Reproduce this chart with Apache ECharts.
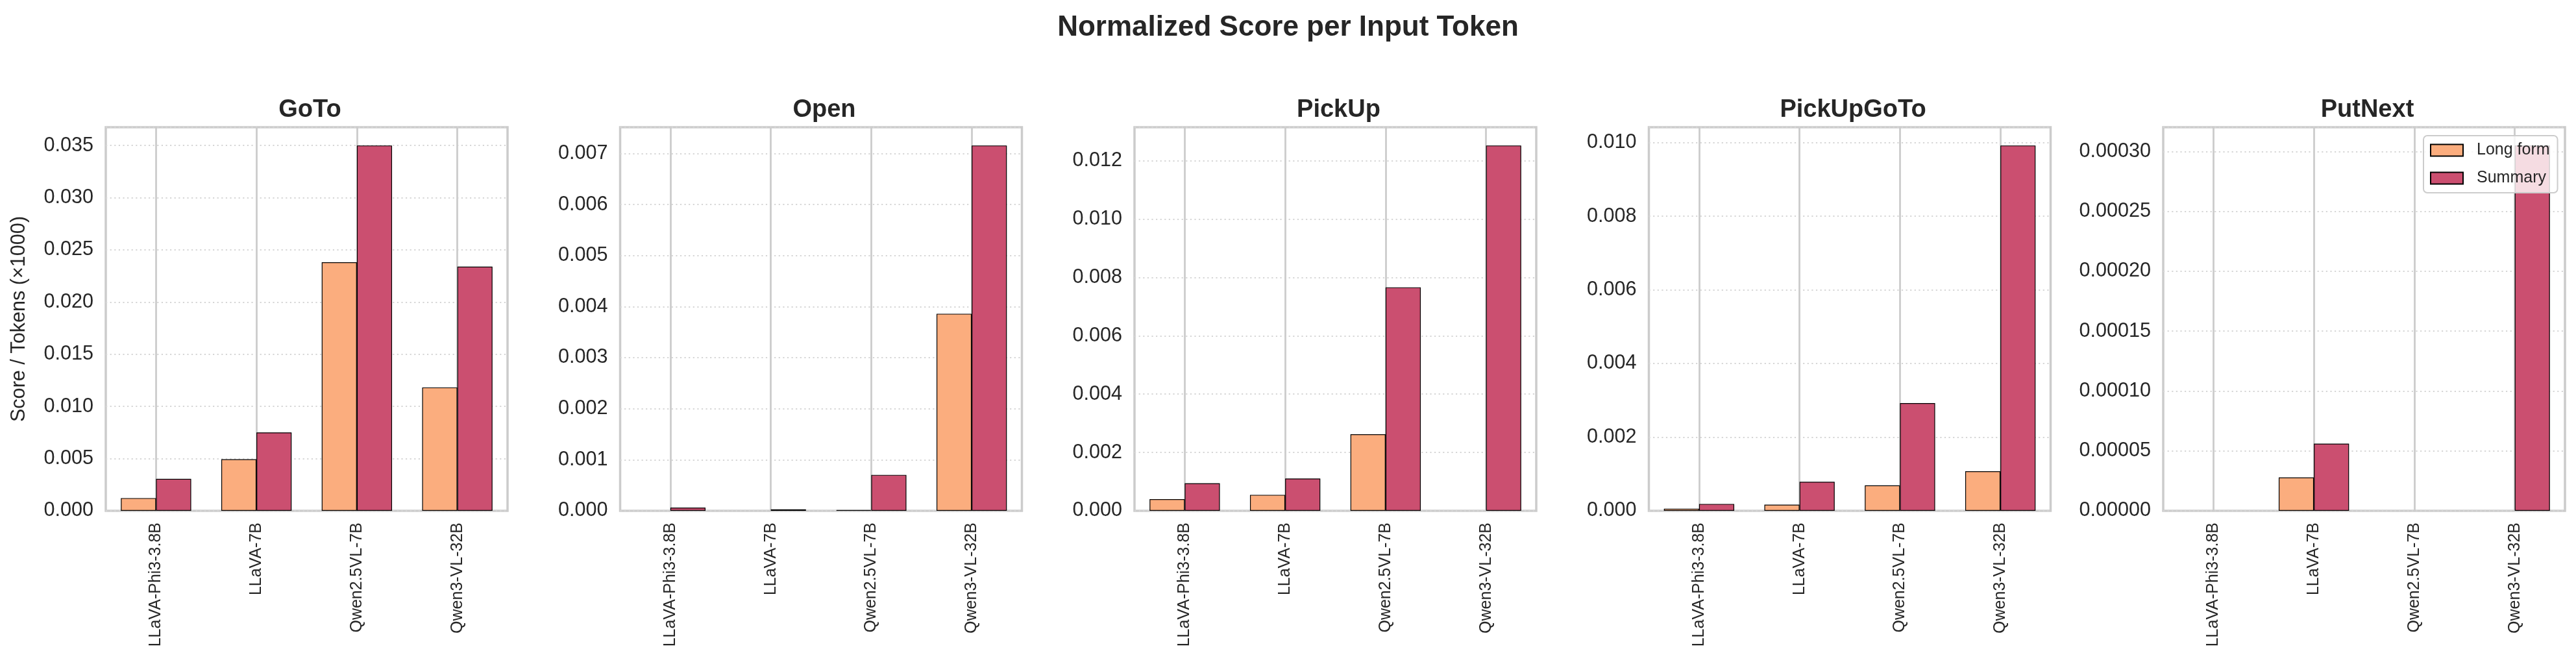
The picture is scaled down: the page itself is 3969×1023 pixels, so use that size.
<!DOCTYPE html>
<html><head><meta charset="utf-8">
<script src="https://cdn.jsdelivr.net/npm/echarts@6/dist/echarts.min.js"></script>
<style>html,body{margin:0;padding:0;background:#fff}#c{width:3969px;height:1023px}</style>
</head><body><div id="c"></div>
<script>
// ---- data ----
const models = ['LLaVA-Phi3-3.8B', 'LLaVA-7B', 'Qwen2.5VL-7B', 'Qwen3-VL-32B'];
const tasks = ['GoTo', 'Open', 'PickUp', 'PickUpGoTo', 'PutNext'];
const seriesNames = ['Long form', 'Summary'];
const gotoLong = [0.00122, 0.00494, 0.02381, 0.01182];
const gotoSummary = [0.00306, 0.00751, 0.0350, 0.02339];
const openLong = [0, 0, 0.000014, 0.00386];
const openSummary = [0.000064, 0.00003, 0.000704, 0.007156];
const pickupLong = [0.000398, 0.000547, 0.002624, 0];
const pickupSummary = [0.000945, 0.001107, 0.00766, 0.01252];
const pickupgotoLong = [0.000059, 0.000167, 0.00069, 0.001074];
const pickupgotoSummary = [0.000187, 0.000788, 0.002926, 0.00992];
const putnextLong = [0, 0.0000279, 0, 0];
const putnextSummary = [0, 0.0000561, 0, 0.000305];
const yTickStep = [0.005, 0.001, 0.002, 0.002, 0.00005];
const yTickDecimals = [3, 3, 3, 3, 5];
const mainTitle = 'Normalized Score per Input Token';
const yAxisTitle = 'Score / Tokens (×1000)';

const longByTask = [gotoLong, openLong, pickupLong, pickupgotoLong, putnextLong];
const sumByTask = [gotoSummary, openSummary, pickupSummary, pickupgotoSummary, putnextSummary];

// ---- style / layout ----
const FONT = '"Liberation Sans", Arial, sans-serif';
const TXT = '#262626';
const COL_LONG = '#FBAD7E';
const COL_SUM = '#CB4F70';
const GRID_LEFT0 = 163, GRID_STEP = 792.5, GRID_W = 619, GRID_TOP = 196, GRID_H = 591;

const grids = [], xAxes = [], yAxes = [], series = [], titles = [];
titles.push({
  text: mainTitle, left: 'center', top: 16,
  textStyle: { fontFamily: FONT, fontSize: 44, fontWeight: 'bold', color: TXT }
});

function barData(arr) {
  return arr.map(v => v === 0 ? { value: 0, itemStyle: { borderWidth: 0 } } : v);
}

tasks.forEach((t, i) => {
  const left = GRID_LEFT0 + GRID_STEP * i;
  grids.push({
    left: left, top: GRID_TOP, width: GRID_W, height: GRID_H,
    show: true, borderColor: '#cccccc', borderWidth: 3.5, backgroundColor: 'transparent'
  });
  titles.push({
    text: t, left: left + GRID_W / 2, top: 146, textAlign: 'center',
    textStyle: { fontFamily: FONT, fontSize: 38, fontWeight: 'bold', color: TXT }
  });
  const maxV = Math.max(...longByTask[i], ...sumByTask[i]) * 1.05;
  xAxes.push({
    gridIndex: i, type: 'category', data: models,
    axisLine: { show: false }, axisTick: { show: false },
    axisLabel: { rotate: 90, fontSize: 25, fontFamily: FONT, color: TXT, margin: 18, interval: 0 },
    splitLine: { show: true, alignWithLabel: true, lineStyle: { color: '#cccccc', width: 2.8 } }
  });
  const dec = yTickDecimals[i];
  yAxes.push({
    gridIndex: i, type: 'value', min: 0, max: maxV, interval: yTickStep[i],
    axisLine: { show: false }, axisTick: { show: false },
    axisLabel: {
      fontSize: 30.6, fontFamily: FONT, color: TXT, margin: 19, showMaxLabel: false,
      formatter: v => v.toFixed(dec)
    },
    splitLine: { show: true, lineStyle: { color: '#d6d6d6', width: 2.2, type: [2.2, 4.4] } },
    name: i === 0 ? yAxisTitle : '',
    nameLocation: 'middle', nameRotate: 90, nameGap: 118,
    nameTextStyle: { fontSize: 30.6, fontFamily: FONT, color: TXT }
  });
  series.push({
    type: 'bar', name: seriesNames[0], xAxisIndex: i, yAxisIndex: i,
    data: barData(longByTask[i]), barWidth: '35%', barGap: '0%',
    itemStyle: { color: COL_LONG, borderColor: '#000', borderWidth: 1.2 }
  });
  series.push({
    type: 'bar', name: seriesNames[1], xAxisIndex: i, yAxisIndex: i,
    data: barData(sumByTask[i]), barWidth: '35%', barGap: '0%',
    itemStyle: { color: COL_SUM, borderColor: '#000', borderWidth: 1.2 }
  });
});

const chart = echarts.init(document.getElementById('c'), null, { renderer: 'canvas' });
chart.setOption({
  backgroundColor: '#ffffff',
  animation: false,
  title: titles,
  grid: grids,
  xAxis: xAxes,
  yAxis: yAxes,
  series: series,
  legend: {
    data: seriesNames, orient: 'vertical', left: 3734, top: 209,
    padding: [10, 12, 10, 10], itemWidth: 50, itemHeight: 18, itemGap: 18,
    icon: 'rect', backgroundColor: 'rgba(255,255,255,0.8)',
    borderColor: '#cccccc', borderWidth: 2, borderRadius: 6,
    textStyle: { fontSize: 25, fontFamily: FONT, color: TXT, padding: [0, 0, 0, 16] }
  }
});
</script>
</body></html>
